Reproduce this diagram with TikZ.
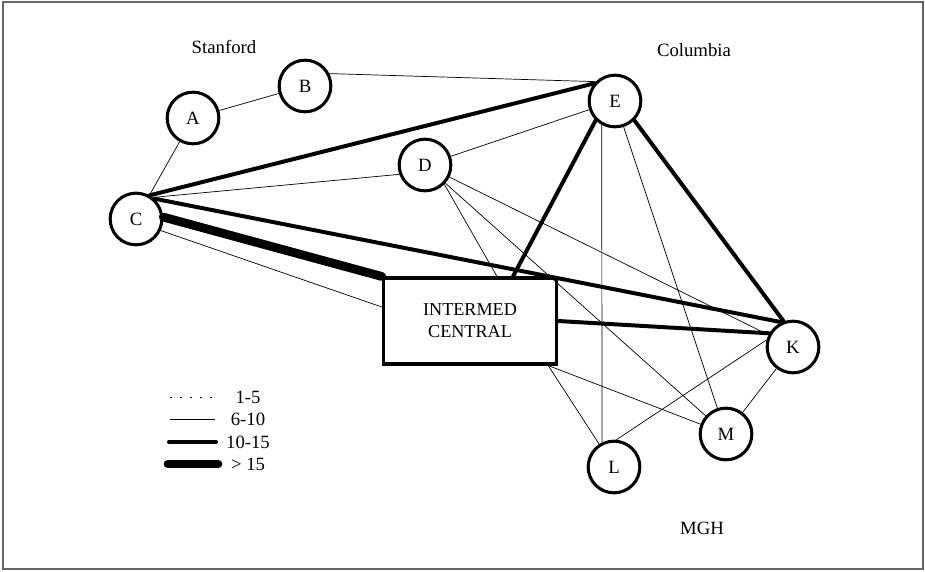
\documentclass[tikz,border=0pt]{standalone}
\usepackage{fontspec}
\setmainfont{Liberation Serif}
\usetikzlibrary{calc}

\begin{document}
\begin{tikzpicture}[x=0.03cm, y=-0.03cm,
    every node/.style={font=\fontsize{16}{19}\selectfont},
    site/.style={circle, draw, line width=2.6pt, minimum size=1.55cm, inner sep=0pt},
    few/.style={line width=0.6pt, dash pattern=on 2pt off 6.5pt},
    some/.style={line width=0.6pt},
    many/.style={line width=3.4pt, line cap=round},
    most/.style={line width=7.5pt, line cap=round}]
    \useasboundingbox (0,0) rectangle (925,572);
    \draw[gray!80!black, line width=1.2pt] (3,2) rectangle (923,569);

    % STANFORD
    \node (stanford) at (224,47) {Stanford};
    \node[site] (A) at (193,118) {A};
    \node[site] (B) at (305,86) {B};
    \node[site] (C) at (136,219) {C};

    % COLUMBIA
    \node (columbia) at (694,50) {Columbia};
    \node[site] (D) at (425,165) {D};
    \node[site] (E) at (615,101) {E};

    % MGH
    \node (mgh) at (702,528) {MGH};
    \node[site] (K) at (793,347) {K};
    \node[site] (M) at (726,434) {M};
    \node[site] (L) at (614,467) {L};

    % CENTRAL
    \node[draw, line width=2.6pt, minimum width=5.2cm, minimum height=2.58cm, align=center,
          font=\fontsize{15.5}{19}\selectfont] (box) at (470,321) {INTERMED\\CENTRAL};
    \coordinate (bxC) at ($(box.west)+(0,-14)$);
    \coordinate (bxD) at ($(box.north)+(27,0)$);
    \coordinate (bxE) at ($(box.north)+(43,0)$);
    \coordinate (bxLM) at ($(box.south east)+(-10,0)$);

    % 6-10
    \draw[some] (A) -- (B);
    \draw[some] (A) -- (C);
    \draw[some] (B.27) -- (E.135);
    \draw[some] (C.52) -- (D.200);
    \draw[some] (C.-25) -- (bxC);
    \draw[some] (D) -- (E);
    \draw[some] (D.-45) -- (bxD);
    \draw[some] (D) -- (K);
    \draw[some] (D) -- (M);
    \draw[some] (E.241) -- (L.116);
    \draw[some] (E) -- (M);
    \draw[some] (bxLM) -- (L);
    \draw[some] (bxLM) -- (M);
    \draw[some] (K.165) -- (L.85);
    \draw[some] (K) -- (M);

    % 10-15
    \draw[many] (C.60) -- (E.140);
    \draw[many] (C.48) -- (K.115);
    \draw[many] (E.225) -- (bxE);
    \draw[many] (E.-45) -- (K.110);
    \draw[many] (box.east) -- (K.150);

    % > 15
    \draw[most] (C.4) -- (box.north west);

    % LEGEND
    \node (n1) at (248,397) {1-5};
    \node (n2) at (248,419) {6-10};
    \node (n3) at (248,442) {10-15};
    \node (n4) at (248,464) {> 15};
    \draw[few] (170,397) -- (213,397);
    \draw[some] (170,419) -- (215,419);
    \draw[many] (169,442) -- (216,442);
    \draw[most] (168,464) -- (218,464);
\end{tikzpicture}
\end{document}
